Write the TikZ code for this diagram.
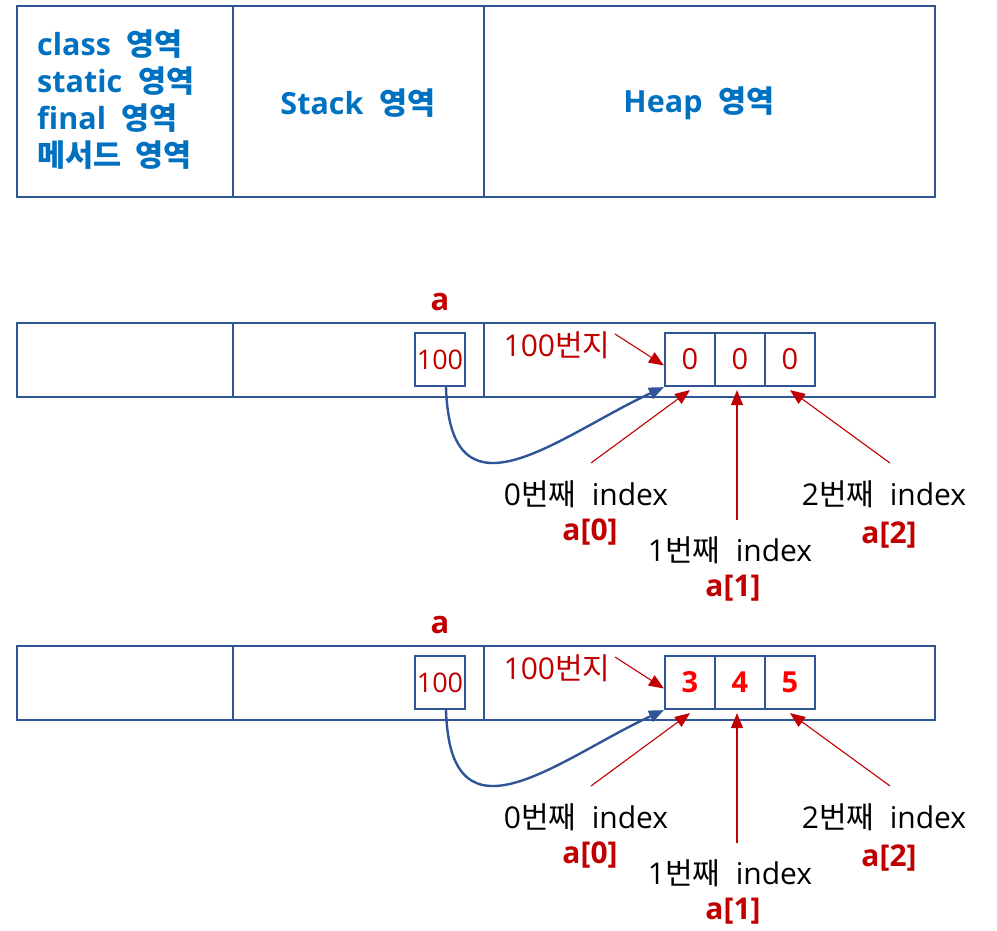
\documentclass[tikz,border=0pt]{standalone}
\usepackage{fontspec}
\setmainfont{Open Sans}[WordSpace=2]
\newfontfamily\krfont{Noto Sans CJK KR}[WordSpace=2]
\newcommand\hg[1]{{\krfont #1}}
\usetikzlibrary{arrows.meta}
\definecolor{bordblue}{HTML}{2F5597}
\definecolor{headblue}{HTML}{0070C0}
\definecolor{darkred}{HTML}{C00000}
\definecolor{brightred}{HTML}{FF0000}
\begin{document}
\begin{tikzpicture}[x=1pt,y=-1pt,
  area/.style={draw=bordblue, line width=2.2pt, inner sep=0pt, anchor=north west},
  cellbox/.style={draw=bordblue, line width=2.2pt, minimum width=50pt, minimum height=53pt, inner sep=0pt},
  cellnum/.style={text=darkred, font=\fontsize{29}{35}\selectfont},
  cellbold/.style={text=brightred, font=\fontsize{29}{35}\selectfont\bfseries},
  redarrow/.style={draw=darkred, line width=1.1pt, -{Triangle[length=15pt,width=12pt]}},
  bluearrow/.style={draw=bordblue, line width=2.4pt, -{Triangle[length=15pt,width=12pt]}},
  head/.style={text=headblue, font=\fontsize{30.5}{37}\selectfont\bfseries, inner sep=0pt},
  lbl/.style={font=\fontsize{30}{35}\selectfont, inner sep=0pt},
  idx/.style={text=darkred, font=\fontsize{30}{35}\selectfont\bfseries, inner sep=0pt}]
\useasboundingbox (0,0) rectangle (997,931);

% top areas
\node[area, minimum width=216pt, minimum height=191pt] (tl) at (16,5) {};
\node[area, minimum width=251pt, minimum height=191pt] (tm) at (232,5) {};
\node[area, minimum width=451pt, minimum height=191pt] (th) at (483,5) {};
\node[head, align=left, anchor=west] (tt) at (37,100) {class \hg{영역}\\static \hg{영역}\\final \hg{영역}\\\hg{메서드 영역}};
\node[head] (ts) at (358,103) {Stack \hg{영역}};
\node[head] (thp) at (699,103) {Heap \hg{영역}};

\foreach \p/\dy/\vs/\va/\vb/\vc in {r1/0/cellnum/0/0/0, r2/323/cellbold/3/4/5}{
\begin{scope}[yshift=-\dy pt]
  \node[area, minimum width=216pt, minimum height=74pt] (\p-l) at (16,322) {};
  \node[area, minimum width=251pt, minimum height=74pt] (\p-m) at (232,322) {};
  \node[area, minimum width=451pt, minimum height=74pt] (\p-h) at (483,322) {};
  \node[text=darkred, font=\fontsize{31}{36}\selectfont\bfseries, inner sep=0pt] (\p-a) at (440,302) {a};
  \node[cellbox, text=darkred, font=\fontsize{27}{32}\selectfont] (\p-s) at (440,359.5) {100};
  \node[cellbox, \vs] (\p-c0) at (690,359.5) {\va};
  \node[cellbox, \vs] (\p-c1) at (740,359.5) {\vb};
  \node[cellbox, \vs] (\p-c2) at (790,359.5) {\vc};
  \node[lbl, text=darkred] (\p-addr) at (557,345) {100\hg{번지}};
  \coordinate (\p-af) at (615,334);
  \draw[redarrow] (\p-af) -- ([yshift=-6pt]\p-c0.west);
  \draw[bluearrow] ([xshift=6pt]\p-s.south) .. controls (450,530) and (560,435) .. (\p-c0.south west);
  \coordinate (\p-t0) at (591,463);
  \coordinate (\p-t1) at (737,520);
  \coordinate (\p-t2) at (890,463);
  \draw[redarrow] (\p-t0) -- ([yshift=-3pt]\p-c0.south);
  \draw[redarrow] (\p-t1) -- ([xshift=-3pt,yshift=-3pt]\p-c1.south);
  \draw[redarrow] (\p-t2) -- ([yshift=-3pt]\p-c2.south);
  \node[lbl] (\p-i0) at (586,494) {0\hg{번째} index};
  \node[idx] (\p-x0) at (590,532) {a[0]};
  \node[lbl] (\p-i1) at (730,550) {1\hg{번째} index};
  \node[idx] (\p-x1) at (733,588) {a[1]};
  \node[lbl] (\p-i2) at (884,494) {2\hg{번째} index};
  \node[idx] (\p-x2) at (889,535) {a[2]};
\end{scope}
}
\end{tikzpicture}
\end{document}
